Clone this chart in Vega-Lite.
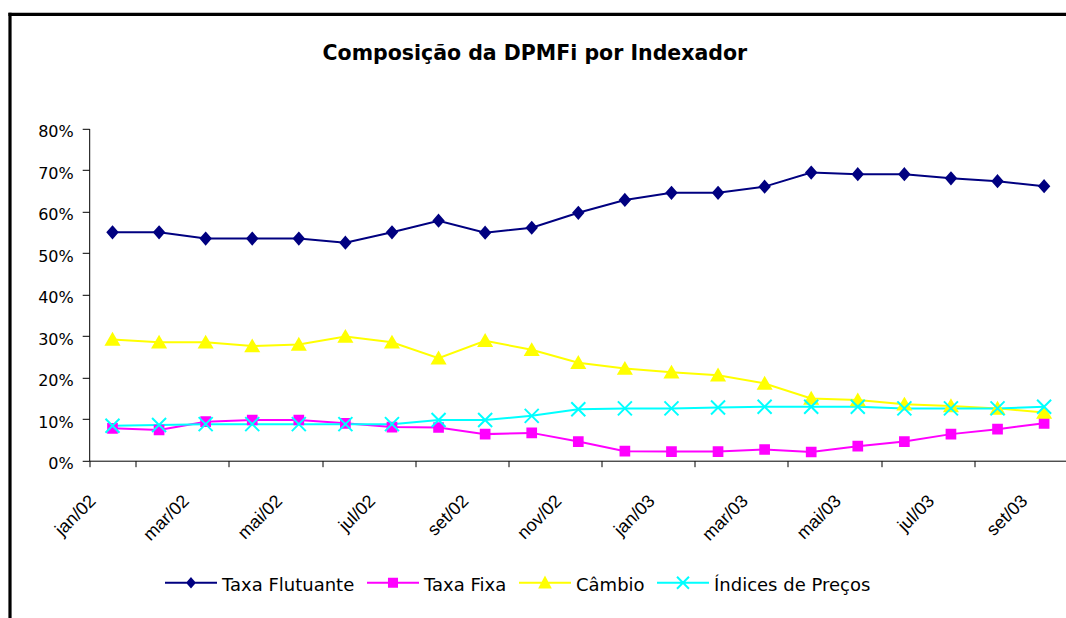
{
  "$schema": "https://vega.github.io/schema/vega-lite/v6.json",
  "width": 1056.5,
  "height": 604.2,
  "autosize": {"type": "none"},
  "padding": {"left": 9.5, "top": 13.8, "right": 0, "bottom": 0},
  "background": "white",
  "config": {
    "view": {"stroke": null, "fill": "white"},
    "font": "Liberation Sans"
  },
  "title": {
    "text": "Composição da DPMFi por Indexador",
    "font": "DejaVu Sans",
    "fontSize": 20.5,
    "fontWeight": "bold",
    "color": "black",
    "anchor": "start",
    "frame": "group",
    "orient": "top",
    "baseline": "alphabetic",
    "offset": 0,
    "dy": 67,
    "dx": 313
  },
  "data": {
    "values": [
      {"m": "jan/02", "Taxa Flutuante": 0.550, "Taxa Fixa": 0.078, "Câmbio": 0.292, "Índices de Preços": 0.084},
      {"m": "fev/02", "Taxa Flutuante": 0.550, "Taxa Fixa": 0.074, "Câmbio": 0.285, "Índices de Preços": 0.086},
      {"m": "mar/02", "Taxa Flutuante": 0.535, "Taxa Fixa": 0.094, "Câmbio": 0.285, "Índices de Preços": 0.088},
      {"m": "abr/02", "Taxa Flutuante": 0.535, "Taxa Fixa": 0.098, "Câmbio": 0.276, "Índices de Preços": 0.088},
      {"m": "mai/02", "Taxa Flutuante": 0.535, "Taxa Fixa": 0.098, "Câmbio": 0.280, "Índices de Preços": 0.088},
      {"m": "jun/02", "Taxa Flutuante": 0.525, "Taxa Fixa": 0.090, "Câmbio": 0.299, "Índices de Preços": 0.088},
      {"m": "jul/02", "Taxa Flutuante": 0.550, "Taxa Fixa": 0.081, "Câmbio": 0.285, "Índices de Preços": 0.088},
      {"m": "ago/02", "Taxa Flutuante": 0.578, "Taxa Fixa": 0.080, "Câmbio": 0.247, "Índices de Preços": 0.098},
      {"m": "set/02", "Taxa Flutuante": 0.549, "Taxa Fixa": 0.064, "Câmbio": 0.289, "Índices de Preços": 0.098},
      {"m": "out/02", "Taxa Flutuante": 0.561, "Taxa Fixa": 0.067, "Câmbio": 0.267, "Índices de Preços": 0.108},
      {"m": "nov/02", "Taxa Flutuante": 0.597, "Taxa Fixa": 0.046, "Câmbio": 0.236, "Índices de Preços": 0.124},
      {"m": "dez/02", "Taxa Flutuante": 0.628, "Taxa Fixa": 0.023, "Câmbio": 0.222, "Índices de Preços": 0.126},
      {"m": "jan/03", "Taxa Flutuante": 0.645, "Taxa Fixa": 0.022, "Câmbio": 0.213, "Índices de Preços": 0.126},
      {"m": "fev/03", "Taxa Flutuante": 0.645, "Taxa Fixa": 0.022, "Câmbio": 0.206, "Índices de Preços": 0.128},
      {"m": "mar/03", "Taxa Flutuante": 0.660, "Taxa Fixa": 0.027, "Câmbio": 0.186, "Índices de Preços": 0.130},
      {"m": "abr/03", "Taxa Flutuante": 0.694, "Taxa Fixa": 0.021, "Câmbio": 0.150, "Índices de Preços": 0.130},
      {"m": "mai/03", "Taxa Flutuante": 0.690, "Taxa Fixa": 0.035, "Câmbio": 0.146, "Índices de Preços": 0.130},
      {"m": "jun/03", "Taxa Flutuante": 0.690, "Taxa Fixa": 0.046, "Câmbio": 0.136, "Índices de Preços": 0.126},
      {"m": "jul/03", "Taxa Flutuante": 0.680, "Taxa Fixa": 0.064, "Câmbio": 0.132, "Índices de Preços": 0.126},
      {"m": "ago/03", "Taxa Flutuante": 0.673, "Taxa Fixa": 0.076, "Câmbio": 0.126, "Índices de Preços": 0.126},
      {"m": "set/03", "Taxa Flutuante": 0.661, "Taxa Fixa": 0.090, "Câmbio": 0.116, "Índices de Preços": 0.130}
    ]
  },
  "transform": [
    {"fold": ["Taxa Flutuante", "Taxa Fixa", "Câmbio", "Índices de Preços"], "as": ["s", "v"]}
  ],
  "resolve": {"scale": {"x": "independent", "y": "independent"}, "axis": {"x": "independent", "y": "independent"}},
  "layer": [
    {
      "encoding": {
        "x": {
          "field": "m",
          "type": "ordinal",
          "sort": null,
          "scale": {"type": "band", "range": [79.7, 1057.9], "paddingInner": 0, "paddingOuter": 0},
          "axis": {
            "values": ["jan/02", "mar/02", "mai/02", "jul/02", "set/02", "nov/02", "jan/03", "mar/03", "mai/03", "jul/03", "set/03"],
            "orient": "bottom",
            "offset": -157.3,
            "tickBand": "extent",
            "domainColor": "black",
            "domainWidth": 1,
            "tickColor": "black",
            "tickWidth": 1,
            "tickSize": 6,
            "labelAngle": -45,
            "labelAlign": "right",
            "labelBaseline": "top",
            "labelOffset": -26,
            "labelPadding": 25,
            "labelFont": "Liberation Sans",
            "labelFontSize": 18,
            "labelColor": "black",
            "labelOverlap": false,
            "grid": false,
            "title": null
          }
        },
        "y": {
          "field": "v",
          "type": "quantitative",
          "scale": {"domain": [0, 0.8], "range": [446.9, 114.7], "nice": false, "zero": true},
          "axis": {
            "values": [0, 0.1, 0.2, 0.3, 0.4, 0.5, 0.6, 0.7, 0.8],
            "format": ".0%",
            "orient": "left",
            "offset": -79.7,
            "domainColor": "black",
            "domainWidth": 1,
            "tickColor": "black",
            "tickWidth": 1,
            "tickSize": 7,
            "labelFont": "DejaVu Sans",
            "labelFontSize": 16,
            "labelColor": "black",
            "labelPadding": 9,
            "labelOffset": 3,
            "labelBaseline": "middle",
            "grid": false,
            "title": null
          }
        }
      },
      "layer": [
        {
          "mark": {"type": "line", "strokeWidth": 2, "clip": false},
          "encoding": {
            "color": {
              "field": "s",
              "type": "nominal",
              "scale": {
                "domain": ["Taxa Flutuante", "Taxa Fixa", "Câmbio", "Índices de Preços"],
                "range": ["#000080", "#FF00FF", "#FFFF00", "#00FFFF"]
              },
              "legend": {
                "orient": "none",
                "legendX": 154.5,
                "legendY": 542,
                "direction": "horizontal",
                "columns": 4,
                "title": null,
                "labelFont": "DejaVu Sans",
                "labelFontSize": 18,
                "labelColor": "black",
                "labelLimit": 400,
                "symbolSize": 2704,
                "symbolStrokeWidth": 2,
                "labelOffset": 4,
                "columnPadding": 8,
                "padding": 0,
                "encode": {
                  "symbols": {
                    "update": {
                      "shape": {"signal": "datum.value === 'Taxa Flutuante' ? 'M-1,0H1M0,-0.16L0.14,0L0,0.16L-0.14,0Z' : datum.value === 'Taxa Fixa' ? 'M-1,0H1M-0.155,-0.155H0.155V0.155H-0.155Z' : datum.value === 'Câmbio' ? 'M-1,0H1M0,-0.2L0.2,0.18H-0.2Z' : 'M-1,0H1M-0.23,-0.23L0.23,0.23M0.23,-0.23L-0.23,0.23'"},
                      "fill": {"scale": "color", "field": "value"},
                      "stroke": {"scale": "color", "field": "value"},
                      "opacity": {"value": 1}
                    }
                  },
                  "labels": {"update": {"dy": {"value": 3}}}
                }
              }
            }
          }
        },
        {
          "transform": [{"filter": "datum.s === 'Taxa Flutuante'"}],
          "mark": {"type": "point", "shape": "M0,-0.8L0.7,0L0,0.8L-0.7,0Z", "fill": "#000080", "stroke": "#000080", "size": 196, "strokeWidth": 2, "opacity": 1, "clip": false}
        },
        {
          "transform": [{"filter": "datum.s === 'Taxa Fixa'"}],
          "mark": {"type": "point", "shape": "M-0.62,-0.62H0.62V0.62H-0.62Z", "fill": "#FF00FF", "stroke": "#FF00FF", "size": 196, "strokeWidth": 2, "opacity": 1, "clip": false}
        },
        {
          "transform": [{"filter": "datum.s === 'Câmbio'"}],
          "mark": {"type": "point", "shape": "M0,-0.8L0.9,0.75H-0.9Z", "fill": "#FFFF00", "stroke": "#FFFF00", "size": 196, "strokeWidth": 2, "opacity": 1, "clip": false}
        },
        {
          "transform": [{"filter": "datum.s === 'Índices de Preços'"}],
          "mark": {"type": "point", "shape": "M-1,-1L1,1M1,-1L-1,1", "fill": "#00FFFF", "stroke": "#00FFFF", "size": 196, "strokeWidth": 2, "opacity": 1, "clip": false}
        }
      ]
    },
    {
      "mark": {"type": "point", "opacity": 0, "clip": false},
      "encoding": {
        "x": {
          "field": "m",
          "type": "ordinal",
          "sort": null,
          "scale": {"type": "band", "range": [-1.6, 1100], "paddingInner": 0, "paddingOuter": 0},
          "axis": {"orient": "top", "offset": 0, "domain": true, "domainColor": "black", "domainWidth": 3.2, "ticks": false, "labels": false, "grid": false, "title": null}
        },
        "y": {
          "field": "v",
          "type": "quantitative",
          "scale": {"domain": [0, 1], "range": [700, -1.6], "nice": false, "zero": true},
          "axis": {"orient": "left", "offset": 0, "domain": true, "domainColor": "black", "domainWidth": 3.2, "ticks": false, "labels": false, "grid": false, "title": null}
        }
      }
    }
  ]
}
